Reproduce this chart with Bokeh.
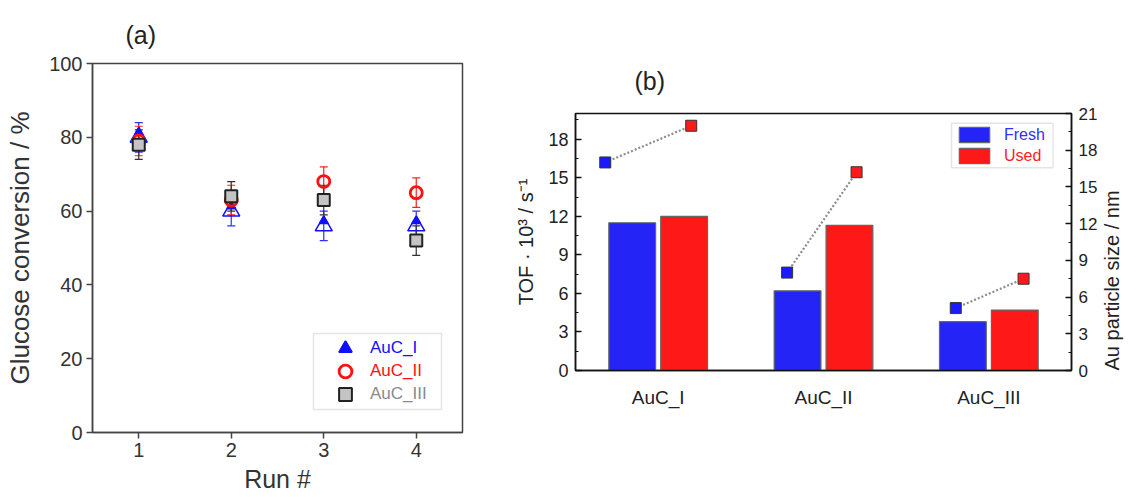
import math
from bokeh.plotting import figure
from bokeh.layouts import row
from bokeh.models import (ColumnDataSource, Whisker, TeeHead, Legend, LegendItem,
                          BoxAnnotation, FixedTicker, LinearAxis, Range1d)
from bokeh.embed import file_html
from bokeh.resources import INLINE

# ---------------- data: panel (a) ----------------
runs = [1, 2, 3, 4]
auc1_conv = [80, 60, 56, 56]
auc1_err = [4, 4, 4, 4]
auc2_conv = [79, 63, 68, 65]
auc2_err = [4, 4, 4, 4]
auc3_conv = [78, 64, 63, 52]
auc3_err = [4, 4, 4, 4]
conv_ticks = [0, 20, 40, 60, 80, 100]

# ---------------- data: panel (b) ----------------
samples = ["AuC_I", "AuC_II", "AuC_III"]
tof_fresh = [11.5, 6.2, 3.8]
tof_used = [12.0, 11.3, 4.7]
size_fresh = [17.0, 8.0, 5.1]
size_used = [20.0, 16.2, 7.5]
tof_ticks = [0, 3, 6, 9, 12, 15, 18]
size_ticks = [0, 3, 6, 9, 12, 15, 18, 21]

FONT = "Liberation Sans"

# ======================= panel (a) =======================
A_W, A_H = 480, 497
A_L, A_R, A_T, A_B = 92, 18, 63, 65
fa = figure(width=A_W, height=A_H, x_range=(0.5, 4.5), y_range=(0, 100),
            output_backend="svg", toolbar_location=None, frame_align=False,
            title="(a)",
            min_border_left=A_L, min_border_right=A_R, min_border_top=A_T, min_border_bottom=A_B)
fa.title.text_font = FONT
fa.title.text_font_size = "25px"
fa.title.text_font_style = "normal"
fa.title.text_color = "#222222"
fa.title.align = "left"
fa.title.offset = 33
fa.title.standoff = 30
fa.grid.visible = False
fa.outline_line_color = "#444444"
fa.outline_line_width = 1.5
fa.xaxis.ticker = FixedTicker(ticks=runs)
fa.yaxis.ticker = FixedTicker(ticks=conv_ticks)
fa.xaxis.axis_label = "Run #"
fa.yaxis.axis_label = "Glucose conversion / %"
for ax in fa.axis:
    ax.axis_line_color = "#444444"
    ax.axis_line_width = 1.5
    ax.major_tick_line_color = "#444444"
    ax.major_tick_line_width = 1.5
    ax.major_tick_in = 0
    ax.major_tick_out = 6
    ax.minor_tick_line_color = None
    ax.major_label_text_font = FONT
    ax.major_label_text_font_size = "20px"
    ax.major_label_text_color = "#333333"
    ax.major_label_standoff = 4
    ax.axis_label_text_font = FONT
    ax.axis_label_text_font_size = "25px"
    ax.axis_label_text_font_style = "normal"
    ax.axis_label_text_color = "#333333"
fa.yaxis.axis_label_text_font_size = "26px"
fa.yaxis.axis_label_standoff = 11
fa.xaxis.axis_label_standoff = 5


def errbars(fig, xs, ys, es, color):
    src = ColumnDataSource(dict(x=xs, lo=[y - e for y, e in zip(ys, es)],
                                hi=[y + e for y, e in zip(ys, es)]))
    w = Whisker(source=src, base="x", lower="lo", upper="hi", line_color=color, line_width=1.2,
                upper_head=TeeHead(size=8, line_color=color, line_width=1.2),
                lower_head=TeeHead(size=8, line_color=color, line_width=1.2))
    fig.add_layout(w)


errbars(fa, runs, auc1_conv, auc1_err, "#3030ff")
errbars(fa, runs, auc2_conv, auc2_err, "#ff2020")
errbars(fa, runs, auc3_conv, auc3_err, "#333333")

TRI = 17
ppu = (A_H - A_T - A_B) / 100.0
tri_shift = (TRI / 2) * math.sqrt(3) / 3 / ppu
r1a = fa.scatter(runs, auc1_conv, marker="triangle", size=TRI, fill_color=None,
                 line_color="#1010ff", line_width=1.5)
r1b = fa.scatter(runs, [v + tri_shift for v in auc1_conv], marker="triangle", size=TRI / 2,
                 fill_color="#1010ff", line_color="#1010ff", line_width=1.5)
r2 = fa.scatter(runs, auc2_conv, marker="circle", size=12, fill_color=None,
                line_color="#ff1010", line_width=2.8)
r3 = fa.scatter(runs, auc3_conv, marker="square", size=12, fill_color="#c4c4c4",
                line_color="#222222", line_width=2)

fa.add_layout(BoxAnnotation(left=221, right=349, bottom=23, top=99,
                            left_units="screen", right_units="screen",
                            top_units="screen", bottom_units="screen",
                            fill_color="white", fill_alpha=1.0,
                            line_color="#aaaaaa", line_width=1.5))


def single_legend(fig, label, renderers, color, x, y, gw, gh, standoff, fs):
    lg = Legend(items=[LegendItem(label=label, renderers=renderers)], location=(x, y),
                orientation="vertical", padding=0, margin=0, spacing=0,
                glyph_width=gw, glyph_height=gh, label_height=gh, label_standoff=standoff,
                label_text_color=color, label_text_font=FONT, label_text_font_size=fs,
                border_line_color=None, background_fill_alpha=0)
    fig.add_layout(lg)


single_legend(fa, samples[0], [r1a, r1b], "#1010ff", 237, 84 - 16, 32, 32, 9, "17px")
single_legend(fa, samples[1], [r2], "#ff1010", 237, 61 - 16, 32, 32, 9, "17px")
single_legend(fa, samples[2], [r3], "#8a8a8a", 237, 38 - 16, 32, 32, 9, "17px")

# ======================= panel (b) =======================
B_W, B_H = 657, 497
B_L, B_R, B_T, B_B = 95, 62, 113, 127
fb = figure(width=B_W, height=B_H, x_range=(0.5, 3.5), y_range=(0, 20),
            output_backend="svg", toolbar_location=None, frame_align=False,
            title="(b)",
            min_border_left=B_L, min_border_right=B_R, min_border_top=B_T, min_border_bottom=B_B)
fb.title.text_font = FONT
fb.title.text_font_size = "25px"
fb.title.text_font_style = "normal"
fb.title.text_color = "#222222"
fb.title.align = "left"
fb.title.offset = 59
fb.title.standoff = 37
fb.grid.visible = False
fb.outline_line_color = "#111111"
fb.outline_line_width = 1.5
fb.extra_y_ranges = {"size": Range1d(0, 21)}
raxis = LinearAxis(y_range_name="size", axis_label="Au particle size / nm")
if hasattr(raxis, "axis_label_orientation"):
    raxis.axis_label_orientation = math.pi / 2
    if hasattr(raxis, "axis_label_align"):
        raxis.axis_label_align = "start"
fb.add_layout(raxis, "right")

xs = [i + 1 for i in range(len(samples))]
BAR_W = 0.283
OFF = 0.157
fresh_off = [-0.32, -0.22, -0.20]
used_off = [0.20, 0.20, 0.21]

rf = fb.vbar(x=[x - OFF for x in xs], top=tof_fresh, bottom=0, width=BAR_W,
             fill_color="#2424f6", line_color="#666666", line_width=1.2)
ru = fb.vbar(x=[x + OFF for x in xs], top=tof_used, bottom=0, width=BAR_W,
             fill_color="#ff1818", line_color="#666666", line_width=1.2)

fxs = [x + o for x, o in zip(xs, fresh_off)]
uxs = [x + o for x, o in zip(xs, used_off)]
fb.segment(x0=fxs, y0=size_fresh, x1=uxs, y1=size_used, y_range_name="size",
           line_color="#8c8c8c", line_width=2.2, line_dash="2 2")
fb.scatter(fxs, size_fresh, y_range_name="size", marker="square", size=11,
           fill_color="#1a1aff", line_color="#333333", line_width=1)
fb.scatter(uxs, size_used, y_range_name="size", marker="square", size=11,
           fill_color="#ff1a1a", line_color="#333333", line_width=1)

fb.yaxis[0].ticker = FixedTicker(ticks=tof_ticks, minor_ticks=[t + 1.5 for t in tof_ticks])
fb.yaxis[1].ticker = FixedTicker(ticks=size_ticks, minor_ticks=[t + 1.5 for t in size_ticks[:-1]])
fb.yaxis[0].axis_label = "TOF · 10³ / s⁻¹"
fb.xaxis.ticker = FixedTicker(ticks=xs)
fb.xaxis.major_label_overrides = {x: s for x, s in zip(xs, samples)}

for ax in fb.axis:
    ax.axis_line_color = "#111111"
    ax.axis_line_width = 1.5
    ax.major_tick_line_color = "#111111"
    ax.minor_tick_line_color = "#111111"
    ax.major_tick_line_width = 1.5
    ax.minor_tick_line_width = 1.2
    ax.major_tick_in = 6
    ax.major_tick_out = 0
    ax.minor_tick_in = 3
    ax.minor_tick_out = 0
    ax.major_label_text_font = FONT
    ax.major_label_text_font_size = "17px"
    ax.major_label_text_color = "#222222"
    ax.major_label_standoff = 7
    ax.axis_label_text_font = FONT
    ax.axis_label_text_font_size = "20px"
    ax.axis_label_text_font_style = "normal"
    ax.axis_label_text_color = "#222222"
fb.yaxis[0].major_label_text_font_size = "18px"
fb.yaxis[0].axis_label_standoff = 8
raxis.axis_label_standoff = 12
fb.xaxis.major_tick_in = 0
fb.xaxis.minor_tick_line_color = None
fb.xaxis.major_tick_line_color = None
fb.xaxis.major_label_text_font_size = "19px"
fb.xaxis.major_label_standoff = 16

fb.add_layout(BoxAnnotation(left=376, right=477.5, bottom=202.7, top=247.3,
                            left_units="screen", right_units="screen",
                            top_units="screen", bottom_units="screen",
                            fill_color="white", fill_alpha=1.0,
                            line_color="#aaaaaa", line_width=1.5))
single_legend(fb, "Fresh", [rf], "#3030ff", 380, 225.8, 38, 19, 11, "16px")
single_legend(fb, "Used", [ru], "#ff2020", 380, 204.7, 38, 19, 11, "16px")

layout = row(fa, fb)
open("out.html", "w").write(file_html(layout, INLINE))
